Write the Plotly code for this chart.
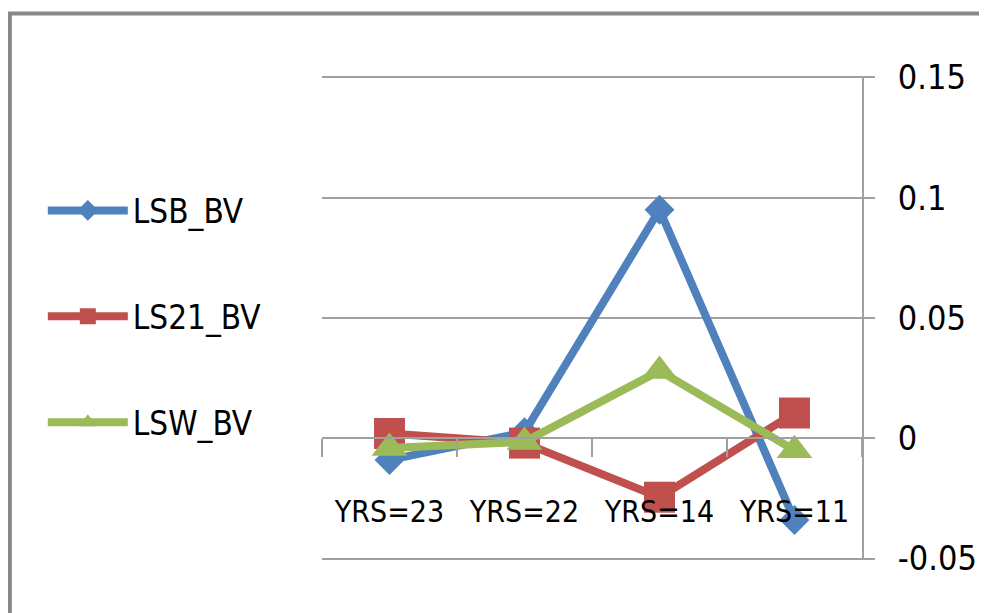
import plotly.graph_objects as go

categories = ["YRS=23", "YRS=22", "YRS=14", "YRS=11"]
lsb_bv = [-0.009, 0.0025, 0.095, -0.034]
ls21_bv = [0.002, -0.002, -0.0245, 0.0105]
lsw_bv = [-0.004, -0.0015, 0.028, -0.005]
y_tickvals = [0.15, 0.1, 0.05, 0, -0.05]
y_ticktext = ["0.15", "0.1", "0.05", "0", "-0.05"]

FONT = "DejaVu Sans Condensed, Liberation Sans Narrow, sans-serif"
GRID = "#a0a0a0"

series = [
    ("LSB_BV", lsb_bv, "#4F81BD", "diamond", 23),
    ("LS21_BV", ls21_bv, "#C0504D", "square", 31),
    ("LSW_BV", lsw_bv, "#9BBB59", "triangle-up", 31),
]

fig = go.Figure()
for i, (name, vals, color, sym, size) in enumerate(series):
    fig.add_trace(go.Scatter(
        x=categories, y=vals, name=name, mode="lines+markers",
        line=dict(color=color, width=8),
        marker=dict(symbol=sym, size=size, color=color),
        legendgroup=f"g{i}",
    ))

fig.update_layout(
    width=979, height=605,
    margin=dict(l=314, r=125, t=68, b=53, autoexpand=False),
    paper_bgcolor="white", plot_bgcolor="white",
    font=dict(family=FONT, size=32, color="black"),
    showlegend=True,
    legend=dict(
        x=-0.517, y=0.78, xanchor="left", yanchor="top",
        bgcolor="rgba(0,0,0,0)", tracegroupgap=60,
        font=dict(family=FONT, size=33),
        itemwidth=80,
    ),
    xaxis=dict(
        type="category", range=[-0.5, 3.5],
        anchor="free", position=0.2515, automargin=False,
        showline=True, linecolor=GRID, linewidth=2,
        ticks="outside", tickson="boundaries", ticklen=18,
        tickcolor=GRID, tickwidth=2,
        showgrid=False, zeroline=False, tickangle=0,
        ticklabelstandoff=47,
        tickfont=dict(family=FONT, size=30),
    ),
    yaxis=dict(
        side="right", range=[-0.0506, 0.1506], automargin=False,
        tickvals=y_tickvals, ticktext=y_ticktext,
        showgrid=True, gridcolor=GRID, gridwidth=2,
        showline=True, linecolor=GRID, linewidth=2,
        ticks="outside", ticklen=11, tickcolor=GRID, tickwidth=2,
        zeroline=False,
        ticklabelstandoff=16,
        tickfont=dict(family=FONT, size=34),
    ),
    shapes=[dict(
        type="rect", xref="paper", yref="paper",
        x0=-0.578, x1=1.5, y0=-0.5, y1=1.129,
        line=dict(color="#888888", width=4), fillcolor="rgba(0,0,0,0)",
        layer="below",
    )],
)

fig.write_html("out.html")
